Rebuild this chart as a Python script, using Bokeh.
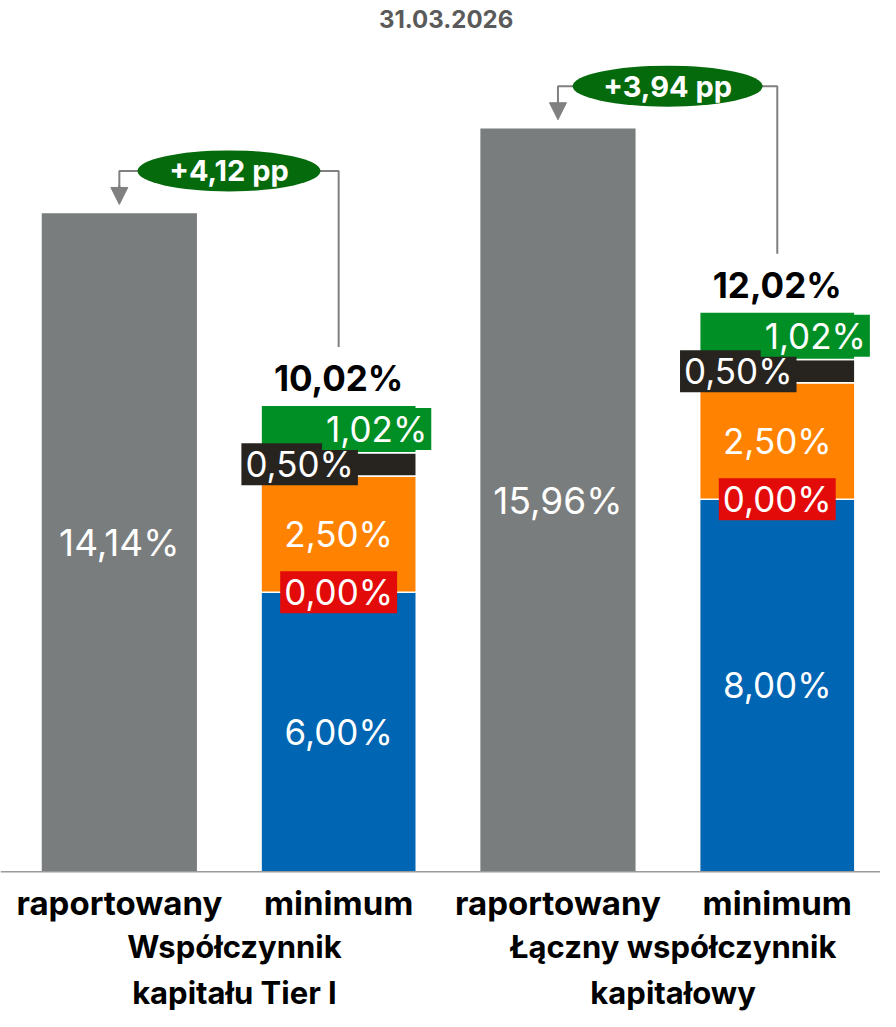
import numpy as np
from bokeh.plotting import figure
from bokeh.models import ColumnDataSource, Range1d, Span, Arrow, NormalHead
from bokeh.core.properties import value
from bokeh.embed import file_html
from bokeh.resources import INLINE

# ---------------- data ----------------
date_label = "31.03.2026"
group_labels = ["Współczynnik\nkapitału Tier I", "Łączny współczynnik\nkapitałowy"]
bar_labels = ["raportowany", "minimum", "raportowany", "minimum"]
reported = [14.14, 15.96]
min_blue = [6.00, 8.00]
min_red = [0.00, 0.00]
min_orange = [2.50, 2.50]
min_black = [0.50, 0.50]
min_green = [1.02, 1.02]
surplus_labels = ["+4,12 pp", "+3,94 pp"]

# ---------------- style ----------------
FONT = value("Inter")
C_GREY = "#7a7d7d"
C_BLUE = "#0065b3"
C_RED = "#e30a0a"
C_ORANGE = "#ff8300"
C_BLACK = "#27241f"
C_GREEN = "#008f25"
C_DKGREEN = "#046a0b"
C_LINE = "#808080"

def fmt(v):
    return f"{v:.2f}".replace(".", ",") + "%"

rep_x = np.array([0.0, 2.0])
min_x = np.array([1.0, 3.0])
BW = 0.7076

blue = np.array(min_blue)
red = np.array(min_red)
orange = np.array(min_orange)
black = np.array(min_black)
green = np.array(min_green)
totals = blue + red + orange + black + green
rep = np.array(reported)

p = figure(width=880, height=1011, x_range=Range1d(-0.5419, 3.4707),
           y_range=Range1d(-3.002, 18.710), x_axis_type=None, y_axis_type=None,
           min_border=0, toolbar_location=None, output_backend="svg",
           outline_line_color=None)
p.grid.visible = False
p.background_fill_color = "white"

# reported bars
p.vbar(x=rep_x, top=rep, bottom=0, width=BW, color=C_GREY, line_color=None)

# stacked minimum bars
src = ColumnDataSource(dict(x=min_x, blue=blue, red=red, orange=orange,
                            black=black, green=green))
p.vbar_stack(["blue", "red", "orange", "black", "green"], x="x", width=BW,
             source=src, fill_color=[C_BLUE, C_RED, C_ORANGE, C_BLACK, C_GREEN],
             line_color="white", line_width=1.5)

# baseline
p.add_layout(Span(location=0, dimension="width", line_color="#9a9a9a", line_width=1.5))

# reported labels
p.text(x=rep_x, y=rep / 2, text=[fmt(v) for v in rep], text_color="white",
       text_font=FONT, text_font_size="37px", text_align="center",
       text_baseline="middle")

# plain segment labels (blue, orange)
p.text(x=np.concatenate([min_x, min_x]),
       y=np.concatenate([blue / 2, blue + red + orange / 2]),
       text=[fmt(v) for v in blue] + [fmt(v) for v in orange],
       text_color="white", text_font=FONT, text_font_size="35px",
       text_align="center", text_baseline="middle")

# boxed segment labels
box_src = ColumnDataSource(dict(
    x=np.concatenate([min_x, min_x, min_x]),
    y=np.concatenate([blue + red / 2,
                      blue + red + orange + black / 2,
                      blue + red + orange + black + green / 2]),
    text=[fmt(v) for v in red] + [fmt(v) for v in black] + [fmt(v) for v in green],
    bg=[C_RED] * 2 + [C_BLACK] * 2 + [C_GREEN] * 2,
    dx=[0, 0, -39, -39, 38, 38],
))
p.text(x="x", y="y", text="text", source=box_src, x_offset="dx",
       text_color="white", text_font=FONT, text_font_size="35px",
       text_align="center", text_baseline="middle",
       background_fill_color="bg", padding=(4, 0))

# totals
p.text(x=min_x, y=totals, y_offset=-27, text=[fmt(v) for v in totals],
       text_color="black", text_font=FONT, text_font_size="35px",
       text_font_style="bold", text_align="center", text_baseline="middle")

# connectors
ann_y = rep + 0.91
xs = [[m, m, r, r] for m, r in zip(min_x, rep_x)]
ys = [[t + 1.25, a, a, rr + 0.5] for t, a, rr in zip(totals, ann_y, rep)]
p.multi_line(xs=xs, ys=ys, line_color=C_LINE, line_width=2)
arr_src = ColumnDataSource(dict(x0=rep_x, y0=rep + 0.6, x1=rep_x, y1=rep + 0.19))
p.add_layout(Arrow(end=NormalHead(size=17, fill_color=C_LINE, line_color=C_LINE),
                   x_start="x0", y_start="y0", x_end="x1", y_end="y1",
                   source=arr_src, line_color=C_LINE, line_width=2))

# surplus ellipses
ell_x = (rep_x + min_x) / 2
p.ellipse(x=ell_x, y=ann_y, width=[183, 190], height=[41, 41],
          width_units="screen", height_units="screen",
          fill_color=C_DKGREEN, line_color=None)
p.text(x=ell_x, y=ann_y, text=surplus_labels, text_color="white",
       text_font=FONT, text_font_size="29px", text_font_style="bold",
       text_align="center", text_baseline="middle")

# category labels
p.text(x=np.concatenate([rep_x, min_x]), y=0, y_offset=31,
       text=[bar_labels[0], bar_labels[2], bar_labels[1], bar_labels[3]],
       text_color="black", text_font=FONT, text_font_size="33px",
       text_font_style="bold", text_align="center", text_baseline="middle")

# group labels
p.text(x=ell_x + 0.025, y=0, y_offset=98, text=group_labels,
       text_color="black", text_font=FONT, text_font_size="31px",
       text_font_style="bold", text_align="center", text_baseline="middle",
       text_line_height=1.25)

# title
p.text(x=[1.49], y=[18.710], y_offset=18, text=[date_label], text_color="#5a5a5a",
       text_font=FONT, text_font_size="24px", text_font_style="bold",
       text_align="center", text_baseline="middle")

open("out.html", "w").write(file_html(p, INLINE))
